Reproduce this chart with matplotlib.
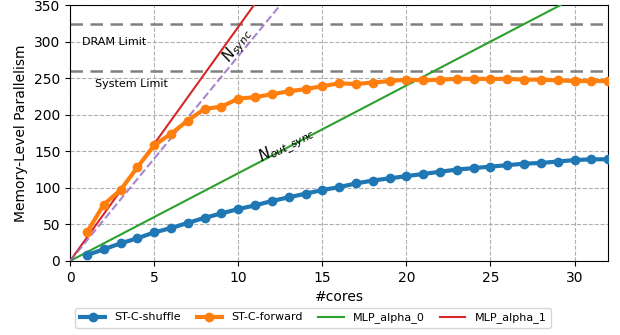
import numpy as np
import matplotlib.pyplot as plt

cores = np.arange(1, 33)
shuffle = [8, 16, 24, 31, 39, 45, 52, 59, 65, 71, 76, 82, 87, 92, 97, 101,
           106, 110, 113, 116, 119, 122, 125, 127, 129, 131, 133, 134, 136, 138, 139, 139]
forward = [39, 77, 97, 128, 158, 174, 192, 208, 211, 222, 224, 228, 232, 235, 239, 243,
           242, 244, 246, 248, 247, 248, 249, 249, 249, 249, 248, 248, 247, 246, 246, 246]

# slopes of the model lines (MLP per core)
alpha_0 = 12
alpha_1 = 32
n_sync = 28

dram_limit = 324
system_limit = 260

fig = plt.figure(figsize=(6.2, 3.35), dpi=100)
ax = fig.add_axes([0.113, 0.221, 0.868, 0.764])

xs = np.array([0, 32])
ax.plot(cores, shuffle, '-o', color='tab:blue', lw=3, ms=6, label='ST-C-shuffle', zorder=4)
ax.plot(cores, forward, '-o', color='tab:orange', lw=3, ms=6, label='ST-C-forward', zorder=4)
ax.plot(xs, alpha_0 * xs, color='tab:green', lw=1.5, label='MLP_alpha_0', zorder=3)
ax.plot(xs, alpha_1 * xs, color='tab:red', lw=1.5, label='MLP_alpha_1', zorder=3)
ax.plot(xs, n_sync * xs, '--', color='tab:purple', lw=1.5, alpha=0.8, zorder=3)

ax.axhline(dram_limit, color='grey', ls='--', lw=1.8, dashes=(5, 3))
ax.axhline(system_limit, color='grey', ls='--', lw=1.8, dashes=(5, 3))
ax.text(0.7, 300, 'DRAM Limit', fontsize=8, va='center')
ax.text(1.5, 242, 'System Limit', fontsize=8, va='center')
ax.text(10.0, 295, r'$N_{sync}$', fontsize=11, rotation=54, ha='center', va='center')
ax.text(12.9, 158, r'$N_{out\_sync}$', fontsize=11, rotation=27, ha='center', va='center')

ax.set_xlim(0, 32)
ax.set_ylim(0, 350)
ax.set_xticks([0, 5, 10, 15, 20, 25, 30])
ax.set_yticks(range(0, 351, 50))
ax.grid(True, ls='--', color='#b0b0b0', lw=0.8)
ax.set_xlabel('#cores', fontsize=10)
ax.set_ylabel('Memory-Level Parallelism', fontsize=10)

fig.legend(loc='lower center', bbox_to_anchor=(0.505, 0.005), ncol=4, fontsize=8,
           handlelength=2.3, columnspacing=1.4)

fig.savefig('out.png', dpi=100)
